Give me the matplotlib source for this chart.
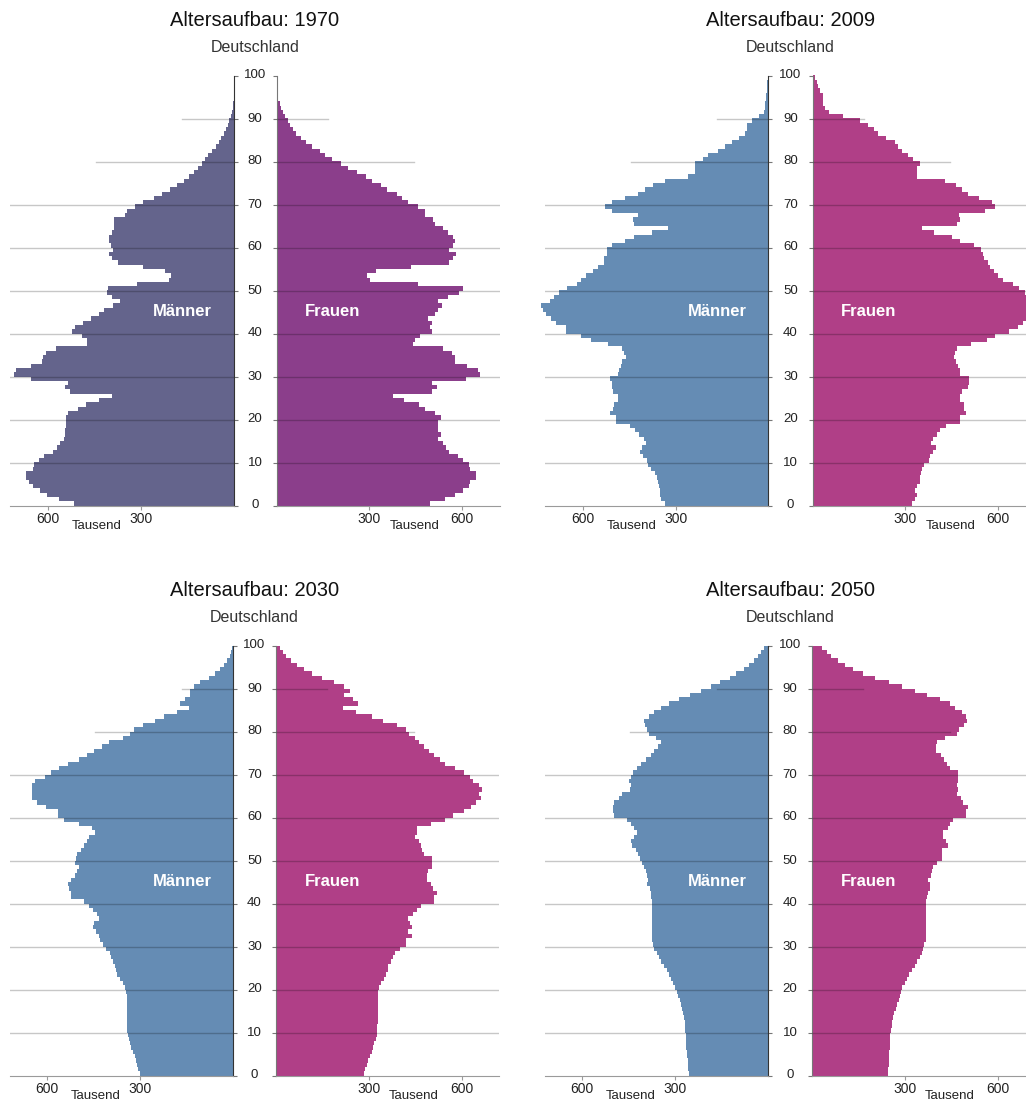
"""Population pyramids for Germany: 1970, 2009, 2030, 2050."""

import matplotlib

matplotlib.use("Agg")
import matplotlib.pyplot as plt
import numpy as np

plt.rcParams["font.family"] = ["Liberation Sans", "DejaVu Sans"]

AGES = np.arange(100)
AGE_TICKS = list(range(0, 101, 10))
X_TICKS = [300, 600]
X_TICK_LABELS = ["300", "600"]
YEARS = ["1970", "2009", "2030", "2050"]

# thousands of people per single year of age (0..99)
MEN_1970 = [
    516, 564, 602, 625, 648, 661, 670, 670, 648, 645,
    627, 611, 584, 571, 562, 548, 546, 543, 541, 541,
    541, 535, 503, 478, 433, 392, 527, 543, 535, 654,
    710, 704, 654, 618, 616, 605, 575, 474, 474, 489,
    521, 511, 487, 460, 433, 417, 390, 367, 392, 410,
    406, 313, 207, 202, 220, 293, 374, 392, 401, 390,
    396, 403, 401, 392, 387, 387, 385, 349, 344, 317,
    291, 258, 231, 205, 183, 161, 143, 127, 114, 102,
    91, 81, 68, 57, 46, 41, 32, 25, 19, 14,
    9, 5, 3, 1, 0, 0, 0, 0, 0, 0,
]
WOMEN_1970 = [
    496, 543, 577, 604, 623, 626, 644, 644, 624, 621,
    602, 586, 558, 548, 537, 523, 531, 523, 521, 523,
    531, 512, 480, 460, 413, 377, 504, 518, 504, 613,
    656, 650, 615, 577, 577, 566, 537, 442, 449, 463,
    504, 496, 504, 491, 512, 523, 534, 523, 553, 590,
    601, 456, 303, 293, 323, 433, 558, 570, 580, 556,
    570, 576, 570, 553, 539, 512, 507, 480, 480, 456,
    426, 404, 390, 357, 339, 310, 288, 260, 231, 209,
    180, 158, 139, 115, 95, 79, 63, 52, 43, 36,
    28, 22, 16, 11, 5, 2, 0, 0, 0, 0,
]
MEN_2009 = [
    336, 347, 349, 349, 353, 356, 360, 367, 379, 390,
    392, 406, 414, 410, 396, 401, 419, 430, 446, 492,
    492, 511, 503, 500, 487, 487, 503, 506, 506, 511,
    487, 482, 478, 474, 460, 468, 474, 519, 575, 605,
    654, 654, 686, 704, 718, 729, 736, 707, 694, 677,
    651, 618, 605, 589, 568, 551, 532, 532, 521, 521,
    506, 463, 433, 377, 326, 433, 439, 422, 506, 527,
    506, 463, 422, 399, 372, 336, 259, 237, 237, 237,
    213, 197, 164, 141, 119, 95, 76, 68, 68, 52,
    30, 14, 12, 10, 9, 8, 6, 5, 4, 3,
]
WOMEN_2009 = [
    323, 332, 337, 332, 337, 348, 348, 350, 355, 361,
    377, 380, 388, 399, 384, 388, 402, 413, 432, 475,
    478, 495, 489, 489, 478, 478, 484, 502, 505, 505,
    478, 475, 471, 465, 457, 460, 467, 511, 565, 590,
    634, 663, 679, 698, 700, 700, 700, 698, 690, 685,
    666, 649, 614, 598, 587, 573, 568, 554, 551, 544,
    522, 478, 451, 394, 353, 467, 475, 473, 558, 589,
    579, 538, 502, 484, 464, 427, 339, 339, 337, 348,
    326, 310, 288, 277, 266, 236, 212, 198, 179, 155,
    98, 54, 40, 35, 33, 33, 25, 18, 13, 8,
]
MEN_2030 = [
    301, 306, 310, 314, 317, 323, 328, 334, 337, 339,
    342, 343, 344, 344, 344, 344, 344, 344, 344, 347,
    350, 357, 366, 375, 377, 382, 388, 393, 399, 409,
    420, 431, 434, 442, 451, 448, 434, 440, 453, 464,
    480, 525, 525, 531, 532, 523, 512, 505, 496, 509,
    507, 505, 491, 480, 471, 464, 447, 455, 496, 547,
    566, 566, 604, 634, 651, 651, 651, 648, 639, 608,
    588, 561, 534, 496, 472, 449, 422, 401, 357, 334,
    319, 292, 252, 222, 182, 142, 171, 155, 139, 139,
    125, 106, 76, 57, 43, 30, 19, 11, 6, 4,
]
WOMEN_2030 = [
    284, 289, 295, 298, 303, 309, 313, 318, 322, 325,
    326, 327, 328, 328, 328, 329, 329, 330, 331, 329,
    332, 340, 349, 354, 362, 362, 370, 379, 384, 401,
    419, 419, 438, 427, 438, 433, 427, 444, 457, 468,
    509, 509, 519, 506, 500, 487, 487, 490, 504, 504,
    504, 479, 473, 468, 462, 448, 455, 455, 500, 546,
    571, 606, 630, 647, 661, 657, 665, 657, 636, 627,
    606, 579, 546, 531, 511, 495, 479, 462, 448, 430,
    419, 390, 347, 311, 260, 217, 264, 249, 221, 238,
    221, 188, 148, 116, 89, 67, 48, 32, 22, 13,
]
MEN_2050 = [
    255, 257, 260, 260, 261, 262, 264, 265, 266, 266,
    267, 268, 269, 271, 274, 279, 282, 285, 291, 295,
    301, 306, 312, 320, 327, 336, 345, 352, 360, 368,
    373, 374, 374, 374, 374, 374, 374, 374, 374, 374,
    374, 377, 379, 382, 390, 387, 390, 395, 401, 406,
    414, 419, 428, 441, 444, 433, 422, 433, 444, 457,
    498, 500, 500, 496, 482, 471, 446, 442, 449, 442,
    436, 422, 409, 395, 379, 368, 357, 345, 363, 384,
    392, 397, 401, 384, 368, 347, 320, 289, 252, 217,
    183, 154, 123, 102, 77, 60, 46, 31, 23, 12,
]
WOMEN_2050 = [
    246, 246, 248, 248, 250, 250, 251, 251, 253, 253,
    255, 257, 259, 261, 264, 270, 275, 280, 283, 286,
    291, 300, 308, 313, 324, 333, 340, 348, 354, 359,
    362, 367, 367, 367, 367, 367, 367, 367, 367, 367,
    367, 370, 376, 380, 380, 376, 384, 389, 391, 403,
    420, 420, 420, 440, 433, 422, 424, 438, 447, 457,
    498, 496, 503, 487, 482, 467, 471, 467, 471, 473,
    471, 446, 436, 427, 416, 400, 400, 403, 429, 467,
    474, 492, 500, 498, 485, 462, 447, 414, 370, 333,
    291, 250, 202, 166, 134, 107, 83, 63, 47, 33,
]

MEN = [MEN_1970, MEN_2009, MEN_2030, MEN_2050]
WOMEN = [WOMEN_1970, WOMEN_2009, WOMEN_2030, WOMEN_2050]

MEN_COLORS = ["#64648c", "#658cb4", "#658cb4", "#658cb4"]
WOMEN_COLORS = ["#8b3e8b", "#b03f87", "#b03f87", "#b03f87"]

W, H = 1026, 1102
PX_PER_K = 0.3095
XMAX = 722
GRID_KW = dict(color="black", alpha=0.22, lw=1, zorder=3)

fig = plt.figure(figsize=(W / 100, H / 100), dpi=100)


def add_px_axes(left, top, width, height):
    return fig.add_axes([left / W, 1 - (top + height) / H, width / W, height / H])


def draw_grid(ax):
    for g in range(10, 80, 10):
        ax.axhline(g, **GRID_KW)
    # the two upper lines are only partly drawn in the original
    ax.plot([0, 445], [80, 80], **GRID_KW)
    ax.plot([0, 165], [90, 90], **GRID_KW)


# (men axis x, women axis x, top y, bottom y) in pixels
layout = [
    (233.5, 276.5, 75.5, 505.5),
    (768.5, 812.5, 75.5, 505.5),
    (233.0, 276.0, 645.5, 1075.5),
    (768.0, 812.0, 645.5, 1075.5),
]

width_px = XMAX * PX_PER_K
for i, (men0, women0, top, bottom) in enumerate(layout):
    ax_m = add_px_axes(men0 - width_px, top, width_px, bottom - top)
    ax_f = add_px_axes(women0, top, width_px, bottom - top)

    ax_m.barh(AGES, MEN[i], height=1, align="edge", color=MEN_COLORS[i],
              lw=0, zorder=2, clip_on=False)
    ax_f.barh(AGES, WOMEN[i], height=1, align="edge", color=WOMEN_COLORS[i],
              lw=0, zorder=2, clip_on=False)

    for ax in (ax_m, ax_f):
        draw_grid(ax)
        ax.set_ylim(0, 100)
        ax.spines["top"].set_visible(False)
        ax.spines["bottom"].set_color("#9a9a9a")
        ax.set_xticks(X_TICKS)
        ax.set_xticklabels(X_TICK_LABELS)
        ax.tick_params(axis="x", length=3, pad=2, color="#9a9a9a",
                       labelsize=10, labelcolor="#222222")
        ax.set_yticks(AGE_TICKS)
        ax.set_yticklabels([])
        ax.tick_params(axis="y", length=3, color="#777777")

    ax_m.set_xlim(XMAX, 0)
    ax_f.set_xlim(0, XMAX)

    ax_m.spines["left"].set_visible(False)
    ax_m.spines["right"].set_color("#333333")
    ax_m.yaxis.tick_right()
    ax_f.spines["right"].set_visible(False)
    ax_f.spines["left"].set_color("#777777")

    # age labels centred in the gap between the halves
    mid = (women0 - men0) / 2 / PX_PER_K
    for a in AGE_TICKS:
        ax_m.text(-mid, a, str(a), ha="center", va="center", fontsize=9.5,
                  color="#222222", clip_on=False)

    ax_m.text(443, -4.85, "Tausend", ha="center", va="center", fontsize=9.5,
              color="#222222", clip_on=False)
    ax_f.text(446, -4.85, "Tausend", ha="center", va="center", fontsize=9.5,
              color="#222222", clip_on=False)

    ax_m.text(165, 45, "Männer", ha="center", va="center", fontsize=12,
              fontweight="bold", color="white", zorder=4)
    ax_f.text(182, 45, "Frauen", ha="center", va="center", fontsize=12,
              fontweight="bold", color="white", zorder=4)

    cx = (men0 + women0) / 2
    fig.text(cx / W, 1 - (top - 55) / H, f"Altersaufbau: {YEARS[i]}",
             ha="center", va="center", fontsize=14.5, color="#111111")
    fig.text(cx / W, 1 - (top - 28.5) / H, "Deutschland",
             ha="center", va="center", fontsize=11.5, color="#333333")

fig.savefig("out.png", dpi=100)
plt.close(fig)
